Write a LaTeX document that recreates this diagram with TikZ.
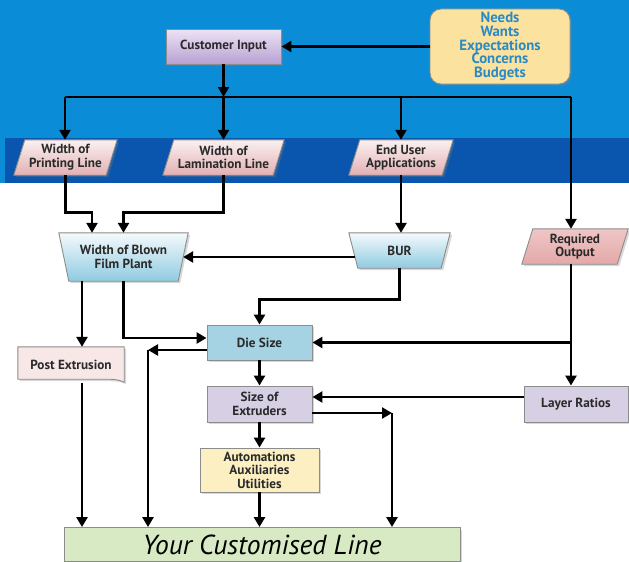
\documentclass[tikz,border=0pt]{standalone}
\usepackage{fontspec}
\setmainfont{PT Sans}
\usetikzlibrary{arrows.meta,shadows,calc}
\pgfdeclarelayer{bg}\pgfdeclarelayer{shp}\pgfsetlayers{bg,shp,main}
\definecolor{skyb}{HTML}{0B8CD7}
\definecolor{bandb}{HTML}{0A56AE}
\definecolor{bord}{HTML}{8C8C8C}
\definecolor{txt}{HTML}{2A2A2A}
\definecolor{ciTop}{HTML}{EDE3F5}
\definecolor{ciBot}{HTML}{B7A1D2}
\definecolor{pinkTop}{HTML}{FBF1F1}
\definecolor{pinkBot}{HTML}{E2B0B3}
\definecolor{roTop}{HTML}{F0C6C6}
\definecolor{roBot}{HTML}{E4A8A8}
\definecolor{blueTop}{HTML}{F5FAFC}
\definecolor{blueBot}{HTML}{8FCBE0}
\definecolor{dieFill}{HTML}{A6D3E3}
\definecolor{lav}{HTML}{D7CFE3}
\definecolor{autoFill}{HTML}{FCF0C3}
\definecolor{postFill}{HTML}{F7E7E7}
\definecolor{finalFill}{HTML}{D7EAC3}
\definecolor{needsY}{HTML}{FBE29E}
\definecolor{needsT}{HTML}{2B8AC4}
\tikzset{
  box/.style={inner sep=1pt, align=center, text=txt,
    font=\bfseries\fontsize{13.2}{13.6}\selectfont},
  framed/.style={draw=bord, line width=0.9pt,
    drop shadow={opacity=0.3, shadow xshift=2pt, shadow yshift=-2pt}},
  ln/.style={line width=2.6pt, draw=black},
  arr/.style={ln, -{Triangle[length=10pt,width=11pt]}},
}
\begin{document}
\begin{tikzpicture}[x=1pt,y=-1pt]
\useasboundingbox (0,0) rectangle (629,562);
\begin{pgfonlayer}{bg}
  \fill[skyb] (0,0) rectangle (629,183);
  \fill[bandb] (5,138) rectangle (629,183);
  \fill[white] (0,183) rectangle (629,562);
\end{pgfonlayer}

% nodes
\node[box, framed, top color=ciTop, bottom color=ciBot, minimum width=115pt, minimum height=35pt] (ci) at (223.5,46.5) {Customer Input};
\node[framed, fill=needsY, rounded corners=11pt, minimum width=140pt, minimum height=73pt, align=center, text=needsT,
  font=\bfseries\fontsize{14.8}{13.7}\selectfont] (needs) at (500,46.5) {Needs\\Wants\\Expectations\\Concerns\\Budgets};

\node[box, minimum width=103pt, minimum height=35pt] (wpl) at (65.5,157.5) {Width of\\Printing Line};
\node[box, minimum width=121pt, minimum height=35pt] (wll) at (223.5,157.5) {Width of\\Lamination Line};
\node[box, minimum width=104pt, minimum height=35pt] (eua) at (401,157.5) {End User\\Applications};

\node[box, minimum width=129pt, minimum height=48pt] (wbfp) at (123.5,257) {Width of Blown\\Film Plant};
\node[box, minimum width=101pt, minimum height=35pt] (bur) at (399.5,250.5) {BUR};
\node[box, minimum width=106pt, minimum height=35pt] (ro) at (575,246.5) {Required\\Output};

\node[box, framed, fill=dieFill, minimum width=105pt, minimum height=35pt] (die) at (259.5,342.5) {Die Size};
\node[box, minimum width=106pt, minimum height=36pt] (post) at (71,365) {Post Extrusion};
\node[box, framed, fill=lav, minimum width=105pt, minimum height=36pt] (soe) at (259.5,404) {Size of\\Extruders};
\node[box, framed, fill=lav, minimum width=104pt, minimum height=36pt] (lr) at (576,404) {Layer Ratios};
\node[box, framed, fill=autoFill, minimum width=119pt, minimum height=44pt] (auto) at (259.5,470) {Automations\\Auxiliaries\\Utilities};
\node[framed, fill=finalFill, minimum width=396pt, minimum height=34pt, text=black,
  font=\itshape\fontsize{27.5}{28}\selectfont] (final) at (262,544.5) {Your Customised Line};

% custom shapes
\begin{pgfonlayer}{shp}
  \path[framed, top color=pinkTop, bottom color=pinkBot]
    ([xshift=11pt]wpl.north west) -- (wpl.north east) -- ([xshift=-11pt]wpl.south east) -- (wpl.south west) -- cycle;
  \path[framed, top color=pinkTop, bottom color=pinkBot]
    ([xshift=11pt]wll.north west) -- (wll.north east) -- ([xshift=-11pt]wll.south east) -- (wll.south west) -- cycle;
  \path[framed, top color=pinkTop, bottom color=pinkBot]
    ([xshift=11pt]eua.north west) -- (eua.north east) -- ([xshift=-11pt]eua.south east) -- (eua.south west) -- cycle;
  \path[framed, top color=roTop, bottom color=roBot]
    ([xshift=11pt]ro.north west) -- (ro.north east) -- ([xshift=-11pt]ro.south east) -- (ro.south west) -- cycle;
  \path[framed, top color=blueTop, bottom color=blueBot]
    (wbfp.north west) -- (wbfp.north east) -- ([xshift=-10pt]wbfp.south east) -- ([xshift=10pt]wbfp.south west) -- cycle;
  \path[framed, top color=blueTop, bottom color=blueBot]
    (bur.north west) -- (bur.north east) -- ([xshift=-9pt]bur.south east) -- ([xshift=9pt]bur.south west) -- cycle;
  \path[framed, fill=postFill]
    (post.north west) -- (post.north east) -- ([yshift=1pt]post.south east)
    .. controls ([xshift=-6pt,yshift=4pt]post.south east) and ([xshift=-12pt,yshift=4pt]post.south east) .. ([xshift=-20pt,yshift=4pt]post.south east)
    -- ([yshift=4pt]post.south west) -- cycle;
\end{pgfonlayer}

% coordinates
\coordinate (busL) at (65,97);
\coordinate (busR) at (571,97);
\coordinate (L1) at (148,350);
\coordinate (R1) at (392,413);

% connectors
\draw[arr] (needs.west) -- (ci.east);
\draw[arr] (ci.south) -- (ci.south |- busL);
\draw[ln] (busL) -- (busR);
\draw[arr] (busL) -- (busL |- wpl.north);
\draw[arr] (ci.south |- busL) -- (wll.north);
\draw[arr] (eua.north |- busL) -- (eua.north);
\draw[arr] (busR) -- (busR |- ro.north);

\draw[arr] (wpl.south) -- ++(0,37) -| ([xshift=-31.5pt]wbfp.north);
\draw[arr] (wll.south) -- ++(0,37) -| (wbfp.north);
\draw[arr] (eua.south) -- (eua.south |- bur.north);
\draw[arr] ([xshift=6pt]bur.west |- wbfp.east) -- ([xshift=-5pt]wbfp.east);
\draw[arr] (bur.south) -- ++(0,31) -| (die.north);

\draw[arr] ([xshift=-41.5pt]wbfp.south) -- ([xshift=-41.5pt]wbfp.south |- post.north);
\draw[arr] (wbfp.south) |- ([yshift=4.5pt]die.west);

\draw[ln] (busR |- ro.south) -- (busR |- die.east);
\draw[arr] (busR |- die.east) -- (die.east);
\draw[arr] (busR |- die.east) -- (busR |- lr.north);

\draw[arr] (die.south) -- (soe.north);
\draw[arr] ([yshift=-7.5pt]die.west) -- (L1);
\draw[arr] (L1) -- (L1 |- final.north);

\draw[arr] ([yshift=7pt]lr.west) -- ([yshift=7pt]soe.east);
\draw[arr] ([yshift=-9pt]soe.east) -- (R1);
\draw[arr] (R1) -- (R1 |- final.north);

\draw[arr] (soe.south) -- (auto.north);
\draw[arr] (auto.south) -- (auto.south |- final.north);
\draw[arr] ([xshift=-41.5pt]wbfp.south |- post.south) -- ([xshift=-41.5pt]wbfp.south |- final.north);
\end{tikzpicture}
\end{document}
